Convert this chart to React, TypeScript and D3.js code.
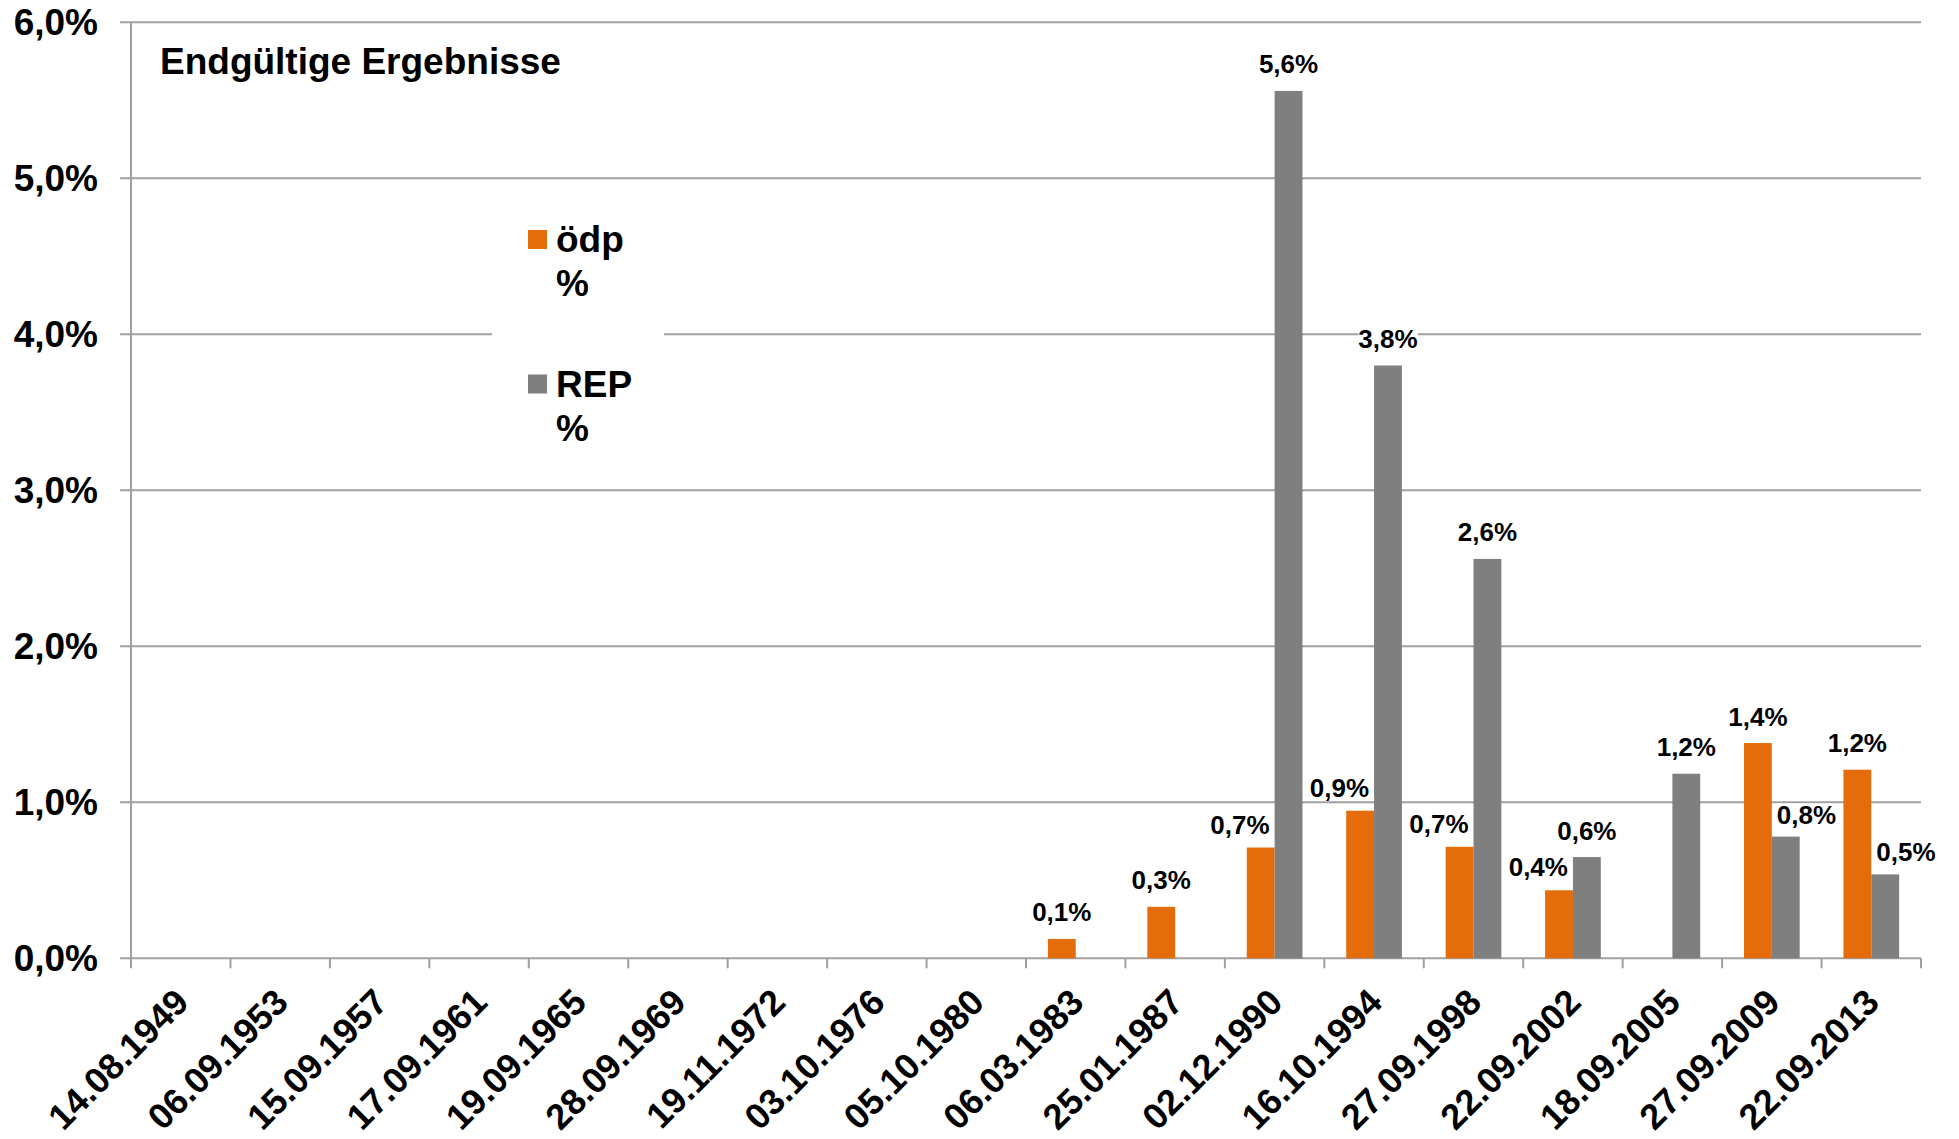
import React from "react";
import * as d3 from "d3";

const categories = [
  "14.08.1949", "06.09.1953", "15.09.1957", "17.09.1961", "19.09.1965", "28.09.1969",
  "19.11.1972", "03.10.1976", "05.10.1980", "06.03.1983", "25.01.1987", "02.12.1990",
  "16.10.1994", "27.09.1998", "22.09.2002", "18.09.2005", "27.09.2009", "22.09.2013",
];
const odpValues: (number | null)[] = [
  null, null, null, null, null, null, null, null, null,
  0.124, 0.33, 0.71, 0.946, 0.715, 0.436, null, 1.38, 1.209,
];
const repValues: (number | null)[] = [
  null, null, null, null, null, null, null, null, null, null, null,
  5.56, 3.8, 2.56, 0.649, 1.183, 0.78, 0.538,
];
const yTicks = [0, 1, 2, 3, 4, 5, 6];
const seriesNames = ["ödp", "REP"];
const title = "Endgültige Ergebnisse";

const W = 1959;
const H = 1139;
const FONT = "'Liberation Sans', Arial, sans-serif";
const ORANGE = "#E46C0A";
const GREY = "#7F7F7F";
const GRID = "#A0A0A0";

const fmt = (v: number) => d3.format(".1f")(v).replace(".", ",") + "%";

export default function App() {
  const left = 131;
  const right = 1921;
  const top = 22.3;
  const bottom = 958.3;
  const x = d3.scaleBand<string>().domain(categories).range([left, right]).paddingInner(0).paddingOuter(0);
  const y = d3.scaleLinear().domain([0, 6]).range([bottom, top]);
  const bw = x.bandwidth() * 0.28;
  const labelSize = 26;

  const labels: { x: number; y: number; anchor: string; text: string }[] = [];
  categories.forEach((c, i) => {
    const cx = (x(c) as number) + x.bandwidth() / 2;
    const o = odpValues[i];
    const r = repValues[i];
    if (o != null) {
      const topY = y(o);
      if (r != null && r > o) {
        labels.push({ x: cx - 5, y: topY - 14, anchor: "end", text: fmt(o) });
      } else {
        labels.push({ x: cx - bw / 2, y: topY - 17.5, anchor: "middle", text: fmt(o) });
      }
    }
    if (r != null) {
      const topY = y(r);
      if (o != null && o > r) {
        labels.push({ x: cx + 5, y: topY - 13, anchor: "start", text: fmt(r) });
      } else {
        labels.push({ x: cx + bw / 2, y: topY - 17.5, anchor: "middle", text: fmt(r) });
      }
    }
  });

  const lw = labelSize * 2.28;

  return (
    <svg
      width={W}
      height={H}
      style={{ position: "absolute", left: 0, top: 0, background: "#fff" }}
      fontFamily={FONT}
      fontWeight="bold"
    >
      <rect x={0} y={0} width={W} height={H} fill="#fff" />
      {/* gridlines */}
      {yTicks.map((t) => (
        <line key={"g" + t} x1={left - 11} x2={right} y1={y(t)} y2={y(t)} stroke={GRID} strokeWidth={2} />
      ))}
      {/* y axis */}
      <line x1={left} x2={left} y1={top} y2={bottom} stroke={GRID} strokeWidth={2} />
      {/* x ticks */}
      {d3.range(categories.length + 1).map((i) => {
        const xx = left + i * x.bandwidth();
        return <line key={"xt" + i} x1={xx} x2={xx} y1={bottom} y2={bottom + 10} stroke={GRID} strokeWidth={2} />;
      })}
      {/* y tick labels */}
      {yTicks.map((t) => (
        <text key={"yl" + t} x={98} y={y(t) + 13} textAnchor="end" fontSize={37} fill="#000">
          {d3.format(".1f")(t).replace(".", ",") + "%"}
        </text>
      ))}
      {/* bars */}
      {categories.map((c, i) => {
        const cx = (x(c) as number) + x.bandwidth() / 2;
        const o = odpValues[i];
        const r = repValues[i];
        return (
          <g key={"b" + c}>
            {o != null && <rect x={cx - bw} y={y(o)} width={bw} height={bottom - y(o)} fill={ORANGE} />}
            {r != null && <rect x={cx} y={y(r)} width={bw} height={bottom - y(r)} fill={GREY} />}
          </g>
        );
      })}
      {/* data labels */}
      {labels.map((l, i) => {
        const rx = l.anchor === "end" ? l.x - lw : l.anchor === "start" ? l.x : l.x - lw / 2;
        return (
          <g key={"l" + i}>
            <rect x={rx} y={l.y - 20} width={lw} height={22} fill="#fff" />
            <text x={l.x} y={l.y} textAnchor={l.anchor} fontSize={labelSize} fill="#000">
              {l.text}
            </text>
          </g>
        );
      })}
      {/* x labels */}
      {categories.map((c) => {
        const cx = (x(c) as number) + x.bandwidth() / 2 + 10;
        const yy = bottom + 46;
        return (
          <text key={"xl" + c} x={cx} y={yy} textAnchor="end" fontSize={36} fill="#000" transform={`rotate(-45 ${cx} ${yy})`}>
            {c}
          </text>
        );
      })}
      {/* title */}
      <text x={160} y={74} fontSize={37} fill="#000">
        {title}
      </text>
      {/* legend */}
      <rect x={492} y={195} width={172} height={270} fill="#fff" />
      {seriesNames.map((n, i) => {
        const oy = i * 144.5;
        return (
          <g key={"lg" + n}>
            <rect x={528} y={230 + oy} width={19} height={19} fill={i === 0 ? ORANGE : GREY} />
            <text x={556} y={252 + oy} fontSize={37} fill="#000">
              {n}
            </text>
            <text x={556} y={296 + oy} fontSize={37} fill="#000">
              %
            </text>
          </g>
        );
      })}
    </svg>
  );
}
